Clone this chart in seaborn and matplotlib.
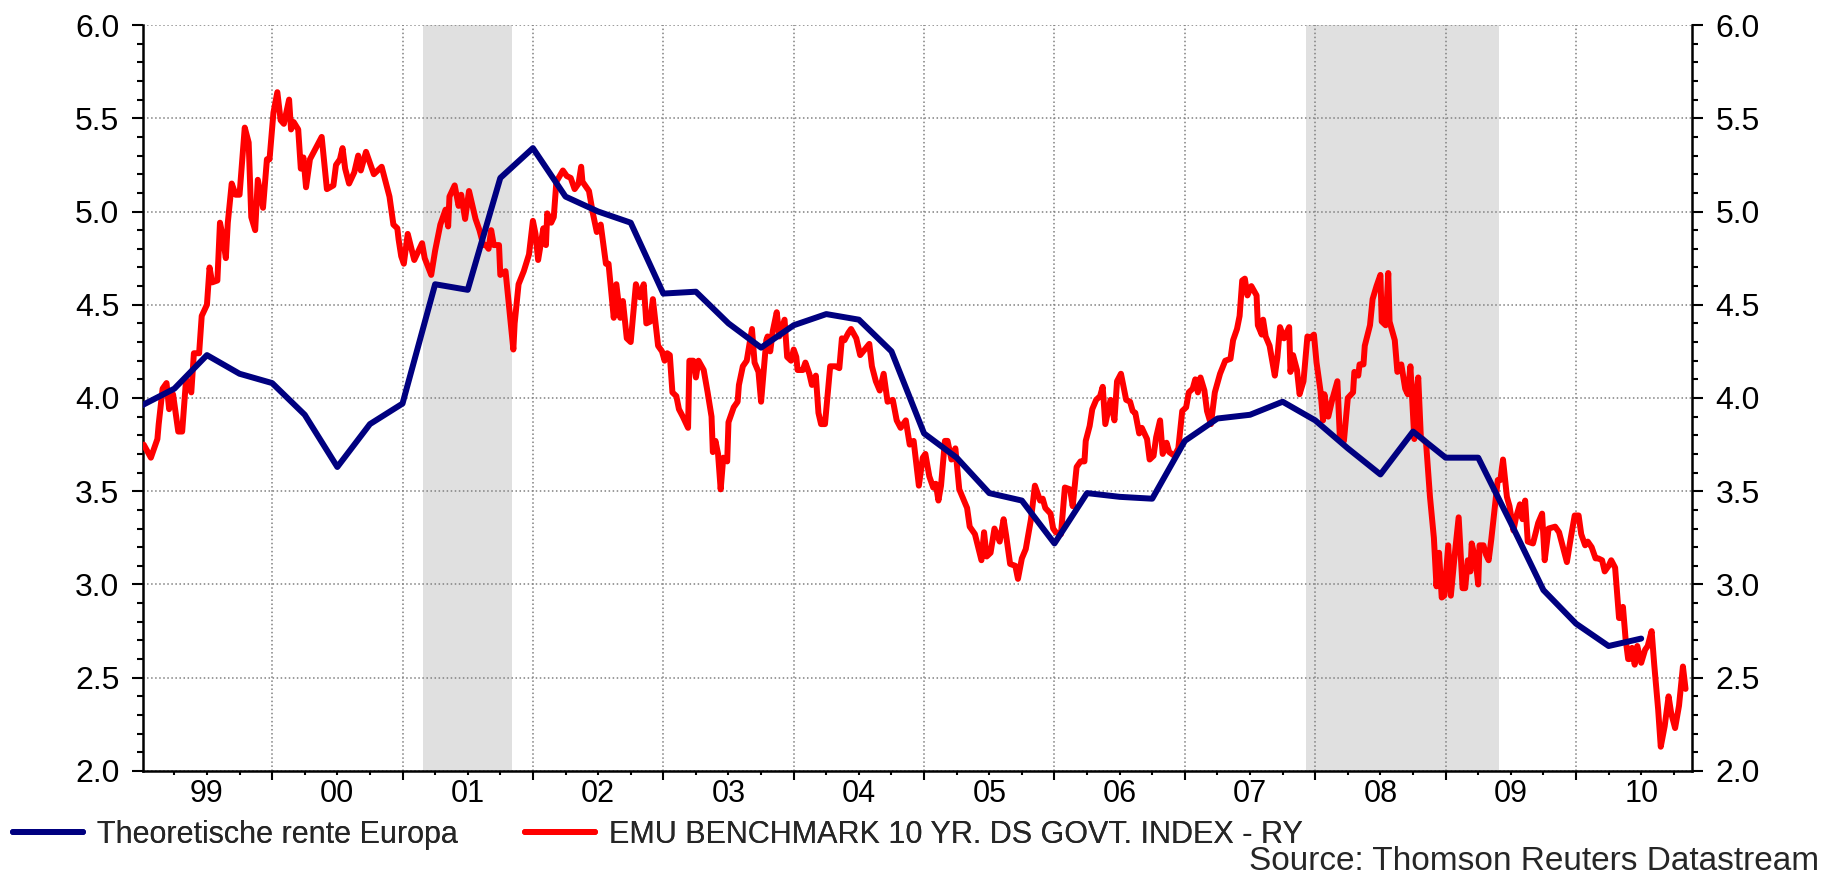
#!/usr/bin/env python3

import matplotlib
matplotlib.use("Agg")
import matplotlib.pyplot as plt
from matplotlib.lines import Line2D
from matplotlib.ticker import FixedLocator, FixedFormatter, MultipleLocator, FormatStrFormatter
import pandas as pd
import seaborn as sns

FIGSIZE = (18.34, 8.75)
BLUE = '#000080'
RED = '#FF0000'
SHADE = '#E0E0E0'

# Theoretische rente Europa (quarterly)
THEO_YEARS = [1999.00, 1999.25, 1999.50, 1999.75, 2000.00, 2000.25, 2000.50, 2000.75,
              2001.00, 2001.25, 2001.50, 2001.75, 2002.00, 2002.25, 2002.50, 2002.75,
              2003.00, 2003.25, 2003.50, 2003.75, 2004.00, 2004.25, 2004.50, 2004.75,
              2005.00, 2005.25, 2005.50, 2005.75, 2006.00, 2006.25, 2006.50, 2006.75,
              2007.00, 2007.25, 2007.50, 2007.75, 2008.00, 2008.25, 2008.50, 2008.75,
              2009.00, 2009.25, 2009.50, 2009.75, 2010.00, 2010.25, 2010.50]
THEO_VALUES = [3.96, 4.05, 4.23, 4.13, 4.08, 3.91, 3.63, 3.86,
               3.97, 4.61, 4.58, 5.18, 5.34, 5.08, 5.00, 4.94,
               4.56, 4.57, 4.40, 4.27, 4.39, 4.45, 4.42, 4.25,
               3.81, 3.68, 3.49, 3.45, 3.22, 3.49, 3.47, 3.46,
               3.77, 3.89, 3.91, 3.98, 3.88, 3.73, 3.59, 3.82,
               3.68, 3.68, 3.33, 2.97, 2.79, 2.67, 2.71]

# EMU BENCHMARK 10 YR. DS GOVT. INDEX - RY
EMU_YEARS = [
    1999.015, 1999.07, 1999.12, 1999.13, 1999.16, 1999.19, 1999.21, 1999.24, 1999.28, 1999.31,
    1999.34, 1999.38, 1999.40, 1999.44, 1999.46, 1999.50, 1999.52, 1999.54, 1999.58, 1999.60,
    1999.62, 1999.645, 1999.66, 1999.69, 1999.72, 1999.75, 1999.79, 1999.82, 1999.84, 1999.87,
    1999.89, 1999.93, 1999.96, 1999.98, 2000.01, 2000.04, 2000.065, 2000.09, 2000.13, 2000.145,
    2000.165, 2000.20, 2000.22, 2000.24, 2000.26, 2000.29, 2000.38, 2000.42, 2000.47, 2000.49,
    2000.52, 2000.54, 2000.56, 2000.59, 2000.63, 2000.66, 2000.68, 2000.72, 2000.75, 2000.78,
    2000.84, 2000.90, 2000.93, 2000.96, 2000.97, 2000.99,
    2001.01, 2001.04, 2001.09, 2001.15, 2001.17, 2001.22, 2001.25, 2001.29, 2001.33, 2001.35,
    2001.36, 2001.40, 2001.43, 2001.45, 2001.48, 2001.51, 2001.56, 2001.59, 2001.62, 2001.64,
    2001.66, 2001.68, 2001.70, 2001.74, 2001.75, 2001.79, 2001.82, 2001.85, 2001.86, 2001.89,
    2001.93, 2001.97, 2002.00, 2002.02, 2002.04, 2002.08, 2002.10, 2002.11, 2002.14, 2002.16,
    2002.18, 2002.23, 2002.26, 2002.29, 2002.32, 2002.35, 2002.37, 2002.38, 2002.43, 2002.46,
    2002.49, 2002.52, 2002.56, 2002.58, 2002.62, 2002.64, 2002.67, 2002.69, 2002.72, 2002.75,
    2002.79, 2002.82, 2002.85, 2002.87, 2002.90, 2002.92, 2002.96, 2002.99,
    2003.01, 2003.03, 2003.05, 2003.07, 2003.10, 2003.12, 2003.15, 2003.19, 2003.20, 2003.23,
    2003.25, 2003.27, 2003.31, 2003.34, 2003.37, 2003.38, 2003.40, 2003.42, 2003.44, 2003.46,
    2003.49, 2003.50, 2003.54, 2003.57, 2003.58, 2003.61, 2003.64, 2003.68, 2003.70, 2003.73,
    2003.75, 2003.79, 2003.80, 2003.82, 2003.84, 2003.87, 2003.89, 2003.93, 2003.95, 2003.98,
    2004.00, 2004.02, 2004.03, 2004.07, 2004.09, 2004.12, 2004.14, 2004.17, 2004.19, 2004.21,
    2004.24, 2004.28, 2004.32, 2004.35, 2004.37, 2004.39, 2004.42, 2004.44, 2004.48, 2004.51,
    2004.58, 2004.60, 2004.63, 2004.66, 2004.69, 2004.72, 2004.76, 2004.79, 2004.82, 2004.86,
    2004.89, 2004.92, 2004.96, 2004.99,
    2005.01, 2005.04, 2005.07, 2005.09, 2005.11, 2005.13, 2005.16, 2005.18, 2005.21, 2005.24,
    2005.27, 2005.33, 2005.35, 2005.39, 2005.44, 2005.46, 2005.48, 2005.51, 2005.54, 2005.58,
    2005.61, 2005.63, 2005.66, 2005.70, 2005.72, 2005.75, 2005.78, 2005.82, 2005.85, 2005.89,
    2005.91, 2005.93, 2005.97, 2005.99, 2006.01, 2006.05, 2006.08, 2006.12, 2006.14, 2006.17,
    2006.20, 2006.23, 2006.24, 2006.27, 2006.29, 2006.32, 2006.35, 2006.37, 2006.39, 2006.43,
    2006.46, 2006.48, 2006.51, 2006.55, 2006.58, 2006.60, 2006.62, 2006.65, 2006.67, 2006.71,
    2006.73, 2006.76, 2006.78, 2006.81, 2006.83, 2006.86, 2006.88, 2006.92, 2006.95, 2006.98,
    2007.01, 2007.03, 2007.06, 2007.08, 2007.10, 2007.12, 2007.15, 2007.17, 2007.20, 2007.23,
    2007.27, 2007.31, 2007.35, 2007.37, 2007.40, 2007.42, 2007.44, 2007.46, 2007.48, 2007.51,
    2007.55, 2007.56, 2007.59, 2007.60, 2007.62, 2007.65, 2007.67, 2007.69, 2007.71, 2007.73,
    2007.76, 2007.80, 2007.81, 2007.83, 2007.86, 2007.88, 2007.91, 2007.94, 2007.96, 2007.99,
    2008.01, 2008.04, 2008.06, 2008.07, 2008.10, 2008.13, 2008.17, 2008.19, 2008.22, 2008.25,
    2008.29, 2008.30, 2008.33, 2008.34, 2008.37, 2008.38, 2008.42, 2008.44, 2008.47, 2008.50,
    2008.51, 2008.54, 2008.56, 2008.57, 2008.61, 2008.63, 2008.66, 2008.69, 2008.71, 2008.73,
    2008.76, 2008.77, 2008.79, 2008.81, 2008.85, 2008.88, 2008.91, 2008.93, 2008.95, 2008.97,
    2008.99, 2009.02, 2009.04, 2009.07, 2009.10, 2009.13, 2009.15, 2009.17, 2009.19, 2009.20,
    2009.23, 2009.25, 2009.26, 2009.29, 2009.31, 2009.33, 2009.35, 2009.38, 2009.40, 2009.42,
    2009.44, 2009.47, 2009.49, 2009.52, 2009.54, 2009.57, 2009.59, 2009.61, 2009.63, 2009.67,
    2009.71, 2009.74, 2009.76, 2009.79, 2009.84, 2009.87, 2009.90, 2009.93, 2009.96, 2009.99,
    2010.02, 2010.04, 2010.07, 2010.09, 2010.12, 2010.15, 2010.17, 2010.20, 2010.22, 2010.25,
    2010.27, 2010.30, 2010.33, 2010.34, 2010.36, 2010.38, 2010.40, 2010.41, 2010.43, 2010.45,
    2010.47, 2010.50, 2010.53, 2010.55, 2010.58, 2010.60, 2010.63, 2010.65, 2010.68, 2010.71,
    2010.73, 2010.76, 2010.79, 2010.82, 2010.84,
]
EMU_VALUES = [
    3.75, 3.68, 3.78, 3.86, 4.05, 4.08, 3.94, 4.02, 3.82, 3.82,
    4.10, 4.03, 4.24, 4.24, 4.44, 4.50, 4.70, 4.62, 4.63, 4.94,
    4.87, 4.75, 4.94, 5.15, 5.09, 5.09, 5.45, 5.37, 4.97, 4.90,
    5.17, 5.02, 5.28, 5.28, 5.53, 5.64, 5.49, 5.47, 5.60, 5.44,
    5.48, 5.44, 5.23, 5.29, 5.13, 5.28, 5.40, 5.12, 5.14, 5.25,
    5.28, 5.34, 5.23, 5.15, 5.21, 5.30, 5.22, 5.32, 5.26, 5.20,
    5.24, 5.08, 4.93, 4.91, 4.85, 4.76,
    4.72, 4.88, 4.74, 4.83, 4.75, 4.66, 4.79, 4.93, 5.01, 4.92,
    5.08, 5.14, 5.03, 5.09, 4.96, 5.11, 4.96, 4.90, 4.82, 4.82,
    4.80, 4.90, 4.82, 4.82, 4.66, 4.68, 4.47, 4.26, 4.40, 4.61,
    4.68, 4.77, 4.95, 4.88, 4.74, 4.91, 4.82, 4.99, 4.94, 4.97,
    5.16, 5.22, 5.19, 5.18, 5.12, 5.15, 5.24, 5.16, 5.11, 4.99,
    4.89, 4.93, 4.72, 4.72, 4.43, 4.61, 4.43, 4.52, 4.32, 4.30,
    4.61, 4.54, 4.61, 4.40, 4.41, 4.53, 4.28, 4.25,
    4.20, 4.24, 4.23, 4.03, 4.01, 3.94, 3.90, 3.84, 4.20, 4.20,
    4.11, 4.20, 4.15, 4.03, 3.90, 3.71, 3.77, 3.70, 3.51, 3.68,
    3.66, 3.87, 3.95, 3.98, 4.07, 4.17, 4.20, 4.37, 4.19, 4.14,
    3.98, 4.31, 4.33, 4.25, 4.36, 4.46, 4.33, 4.42, 4.22, 4.20,
    4.26, 4.22, 4.15, 4.15, 4.19, 4.13, 4.07, 4.12, 3.92, 3.86,
    3.86, 4.17, 4.17, 4.16, 4.32, 4.31, 4.35, 4.37, 4.32, 4.23,
    4.29, 4.17, 4.09, 4.04, 4.13, 3.98, 3.99, 3.88, 3.84, 3.88,
    3.75, 3.77, 3.53, 3.68,
    3.70, 3.58, 3.52, 3.54, 3.45, 3.53, 3.77, 3.77, 3.67, 3.73,
    3.51, 3.41, 3.31, 3.27, 3.13, 3.28, 3.15, 3.17, 3.30, 3.23,
    3.35, 3.26, 3.11, 3.10, 3.03, 3.14, 3.19, 3.35, 3.53, 3.45,
    3.46, 3.41, 3.38, 3.30, 3.28, 3.27, 3.52, 3.51, 3.42, 3.63,
    3.66, 3.66, 3.77, 3.85, 3.94, 3.99, 4.01, 4.06, 3.86, 3.99,
    3.88, 4.09, 4.13, 3.99, 3.98, 3.93, 3.92, 3.81, 3.84, 3.78,
    3.67, 3.69, 3.79, 3.88, 3.70, 3.76, 3.71, 3.69, 3.73, 3.93,
    3.95, 4.03, 4.05, 4.10, 4.03, 4.11, 4.04, 3.93, 3.86, 4.03,
    4.13, 4.20, 4.21, 4.31, 4.37, 4.44, 4.63, 4.64, 4.55, 4.60,
    4.55, 4.39, 4.34, 4.42, 4.33, 4.28, 4.20, 4.12, 4.22, 4.38,
    4.32, 4.38, 4.14, 4.23, 4.15, 4.02, 4.09, 4.33, 4.32, 4.34,
    4.19, 4.04, 3.88, 4.02, 3.90, 3.99, 4.09, 3.77, 3.77, 4.00,
    4.03, 4.14, 4.12, 4.18, 4.18, 4.28, 4.39, 4.53, 4.60, 4.66,
    4.41, 4.39, 4.67, 4.41, 4.31, 4.14, 4.18, 4.05, 4.02, 4.17,
    3.78, 3.99, 4.11, 3.79, 3.76, 3.47, 3.25, 2.99, 3.17, 2.93,
    2.94, 3.21, 2.94, 3.16, 3.36, 2.98, 2.98, 3.13, 3.07, 3.22,
    3.13, 3.00, 3.21, 3.21, 3.16, 3.13, 3.24, 3.43, 3.56, 3.56,
    3.67, 3.47, 3.42, 3.29, 3.36, 3.43, 3.35, 3.45, 3.23, 3.22,
    3.33, 3.38, 3.13, 3.30, 3.31, 3.28, 3.20, 3.12, 3.25, 3.37,
    3.37, 3.27, 3.21, 3.23, 3.20, 3.14, 3.14, 3.13, 3.07, 3.10,
    3.13, 3.09, 2.82, 2.82, 2.88, 2.71, 2.60, 2.60, 2.66, 2.57,
    2.67, 2.58, 2.65, 2.67, 2.75, 2.57, 2.33, 2.13, 2.24, 2.40,
    2.31, 2.23, 2.35, 2.56, 2.44,
]

# shaded periods (start, end) in decimal years
SHADED = [(2001.16, 2001.84), (2007.93, 2009.41)]

LABEL_YEARS = list(range(1999, 2011))
YEAR_LABELS = ['99', '00', '01', '02', '03', '04', '05', '06', '07', '08', '09', '10']

LEGEND_LABELS = ['Theoretische rente Europa', 'EMU BENCHMARK 10 YR. DS GOVT. INDEX - RY']
SOURCE = 'Source: Thomson Reuters Datastream'


def main():
    sns.set_theme(style='white')
    plt.rcParams['font.family'] = ['Liberation Sans', 'DejaVu Sans']

    fig, ax = plt.subplots(figsize=FIGSIZE, dpi=100)
    fig.subplots_adjust(left=0.078, right=0.9226, top=0.9714, bottom=0.1189)

    for start, end in SHADED:
        ax.axvspan(start, end, color=SHADE, lw=0, zorder=0.2)

    theo = pd.DataFrame({'year': THEO_YEARS, 'value': THEO_VALUES})
    emu = pd.DataFrame({'year': EMU_YEARS, 'value': EMU_VALUES})
    sns.lineplot(data=emu, x='year', y='value', color=RED, lw=4.3,
                 estimator=None, sort=False, ax=ax, zorder=3)
    sns.lineplot(data=theo, x='year', y='value', color=BLUE, lw=4.3,
                 estimator=None, sort=False, ax=ax, zorder=4)

    ax.set_xlim(1999.01, 2010.89)
    ax.set_ylim(2.0, 6.0)
    ax.set_xlabel('')
    ax.set_ylabel('')

    # y axis: labels on both sides
    ax.yaxis.set_major_locator(MultipleLocator(0.5))
    ax.yaxis.set_minor_locator(MultipleLocator(0.1))
    ax.yaxis.set_major_formatter(FormatStrFormatter('%.1f'))
    ax.tick_params(axis='y', which='both', direction='out', left=True, right=True,
                   labelleft=True, labelright=True, width=1.5, colors='black',
                   labelsize=23)
    ax.tick_params(axis='y', which='major', length=8, pad=9)
    ax.tick_params(axis='y', which='minor', length=4.5)

    # x axis: major ticks at year boundaries, labels centred on mid-year
    ax.xaxis.set_major_locator(FixedLocator([y + 1 for y in LABEL_YEARS[:-1]]))
    ax.xaxis.set_major_formatter(FixedFormatter([''] * (len(LABEL_YEARS) - 1)))
    minor_pos, minor_lab = [], []
    for y, lab in zip(LABEL_YEARS, YEAR_LABELS):
        minor_pos += [y + 0.25, y + 0.5, y + 0.75]
        minor_lab += ['', lab, '']
    ax.xaxis.set_minor_locator(FixedLocator(minor_pos))
    ax.xaxis.set_minor_formatter(FixedFormatter(minor_lab))
    ax.tick_params(axis='x', which='both', direction='out', bottom=True, width=1.5,
                   colors='black', labelsize=22)
    ax.tick_params(axis='x', which='major', length=6.5)
    ax.tick_params(axis='x', which='minor', length=3, pad=3)

    ax.set_axisbelow(True)
    ax.grid(True, which='major', axis='both', color='#808080', linestyle=':', lw=1.1)

    for side in ['left', 'right', 'bottom']:
        ax.spines[side].set_visible(True)
        ax.spines[side].set_color('black')
        ax.spines[side].set_linewidth(1.8)
    ax.spines['top'].set_visible(False)

    # legend entries placed separately, as in the original
    handles = [Line2D([], [], color=BLUE, lw=4.3), Line2D([], [], color=RED, lw=4.3)]
    anchors = [0.007, 0.286]
    for h, lab, x in zip(handles, LEGEND_LABELS, anchors):
        leg = fig.legend(handles=[h], labels=[lab], loc='center left',
                         bbox_to_anchor=(x, 0.046), frameon=False, fontsize=22,
                         handlelength=2.3, handletextpad=0.45, borderpad=0,
                         borderaxespad=0)
        fig.add_artist(leg)

    fig.text(0.9918, 0.016, SOURCE, ha='right', va='center', fontsize=24)

    fig.savefig('out.png', dpi=100)
    plt.close(fig)


if __name__ == '__main__':
    main()
